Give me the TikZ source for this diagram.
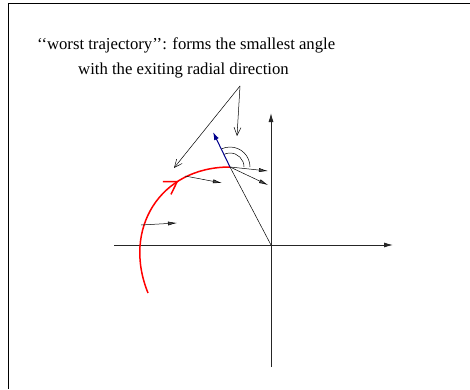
\documentclass[tikz,border=0pt]{standalone}
\usepackage{fontspec}
\setmainfont{Liberation Serif}
\usetikzlibrary{arrows.meta,decorations.markings,calc}
\definecolor{myblue}{RGB}{0,0,140}
\tikzset{
  axis/.style={line width=0.8pt,black!85,-{Latex[length=9pt,width=5pt]}},
  vec/.style={line width=0.5pt,black,-{Latex[length=9pt,width=4pt,fill=black!70]}},
  note/.style={line width=0.5pt,black,-{Straight Barb[length=8pt,width=7pt]}},
  angarc/.style={line width=0.5pt,black},
  label/.style={font=\fontsize{16.7}{20}\selectfont,anchor=base west,inner sep=0pt}
}
\begin{document}
\begin{tikzpicture}[x=1pt,y=1pt]
\useasboundingbox (0,0) rectangle (470,389);
% frame
\coordinate (fTL) at (8,386);
\coordinate (fTR) at (470,386);
\coordinate (fBL) at (8,0);
\draw[line width=0.8pt] (fTR) -- (fTL) -- (fBL);
% text
\node[label] (t1) at (37,339) {`{}`worst trajectory'{}': forms the smallest angle};
\node[label] (t2) at (78,315) {with the exiting radial direction};
% points
\coordinate (O) at (271,144);
\coordinate (yb) at (271,22);
\coordinate (yt) at (271,276);
\coordinate (xl) at (114,144);
\coordinate (xr) at (393,144);
\coordinate (P) at (230,222);
\coordinate (B) at (213,257);
\coordinate (S) at (148,96);
\coordinate (A) at (240,303);
\coordinate (A1) at (174,221);
\coordinate (A2) at (237,253);
\coordinate (v1s) at (141,164);
\coordinate (v1e) at (177,166);
\coordinate (v2s) at (185,213);
\coordinate (v2e) at (222,206);
\coordinate (v3e) at (268,218);
\coordinate (v4e) at (268,204);
% axes
\draw[axis] (yb) -- (yt);
\draw[axis] (xl) -- (xr);
% radial line
\draw[line width=0.5pt] (O) -- (P);
% angle arcs
\draw[angarc] ($(P)+(20,0)$) arc[start angle=0,end angle=116,radius=20];
\draw[angarc] ($(P)+(14,0)$) arc[start angle=0,end angle=116,radius=14];
% red trajectory
\draw[red,line width=1.5pt,
  decoration={markings,mark=at position 0.7 with {\arrow{Straight Barb[length=12pt,width=15pt,line width=1.5pt]}}},
  postaction={decorate}]
  (S) .. controls (122,160) and (160,222) .. (P);
% blue arrow
\draw[myblue,line width=1pt,-{Latex[length=8pt,width=5pt]}] (P) -- (B);
% velocity arrows
\draw[vec] (v1s) -- (v1e);
\draw[vec] (v2s) -- (v2e);
\draw[vec] (P) -- (v3e);
\draw[vec] (P) -- (v4e);
% annotation arrows
\draw[note] (A) -- (A1);
\draw[note] (A) -- (A2);
\end{tikzpicture}
\end{document}
